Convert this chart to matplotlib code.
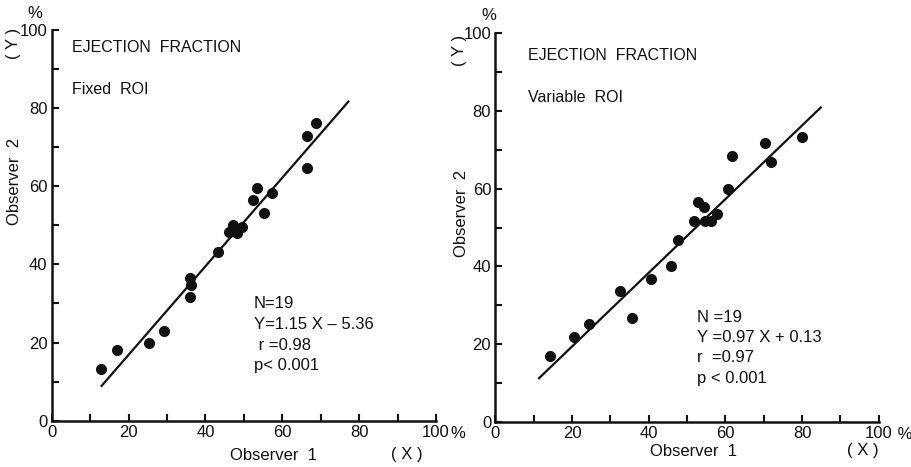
import matplotlib
matplotlib.use("Agg")
import matplotlib.pyplot as plt
from matplotlib.transforms import ScaledTranslation

plt.rcParams['font.family'] = ['Liberation Sans', 'DejaVu Sans']

# ---- data ----
fixed_x = [12.8, 17.0, 25.2, 29.2, 36.1, 36.3, 36.1, 43.4, 46.1, 47.1,
           48.3, 49.4, 52.5, 53.5, 55.3, 57.4, 66.5, 66.5, 68.7]
fixed_y = [13.3, 18.1, 19.8, 23.0, 36.6, 34.7, 31.7, 43.3, 48.2, 50.0,
           48.0, 49.7, 56.5, 59.6, 53.2, 58.3, 64.6, 72.9, 76.2]
fixed_line_x = [12.8, 77.4]
fixed_line_y = [8.7, 81.9]

var_x = [14.3, 20.4, 24.5, 32.4, 35.6, 40.7, 45.7, 47.7, 51.7, 52.9,
         54.5, 54.6, 56.3, 57.7, 60.8, 61.8, 70.3, 72.0, 80.0]
var_y = [17.0, 21.9, 25.2, 33.7, 26.6, 36.8, 40.2, 46.8, 51.8, 56.6,
         55.2, 51.8, 51.8, 53.4, 59.8, 68.3, 71.7, 66.8, 73.3]
var_line_x = [11.2, 85.1]
var_line_y = [11.0, 81.1]

major_ticks = [0, 20, 40, 60, 80, 100]
minor_ticks = [10, 30, 50, 70, 90]
tick_labels = ['0', '20', '40', '60', '80', '100']

fixed_stats = ["N=19", "Y=1.15 X \u2013 5.36", " r =0.98", "p< 0.001"]
var_stats = ["N =19", "Y =0.97 X + 0.13", "r  =0.97", "p < 0.001"]

W, H = 912, 467
fig = plt.figure(figsize=(W / 100, H / 100), dpi=100)
fig.patch.set_facecolor('white')
ink = '#111111'
FS = 12


def fx(px):
    return px / W


def fy(py):
    return 1 - py / H


def make_panel(rect, xs, ys, lx, ly, sub, stats, stat_pos, title_pos, pct_text):
    ax = fig.add_axes(rect)
    ax.set_xlim(0, 100)
    ax.set_ylim(0, 100)
    for s in ['top', 'right']:
        ax.spines[s].set_visible(False)
    for s in ['left', 'bottom']:
        ax.spines[s].set_linewidth(1.8)
        ax.spines[s].set_color(ink)
    ax.set_xticks(major_ticks)
    ax.set_xticklabels(tick_labels)
    ax.set_yticks(major_ticks)
    ax.set_yticklabels(tick_labels)
    ax.set_xticks(minor_ticks, minor=True)
    ax.set_yticks(minor_ticks, minor=True)
    ax.tick_params(which='both', direction='in', length=5, width=1.5, color=ink,
                   labelsize=FS, labelcolor=ink, pad=3)
    ax.plot(lx, ly, color=ink, lw=1.6, solid_capstyle='butt')
    ax.plot(xs, ys, 'o', color=ink, markersize=8, markeredgewidth=0)
    ax.patch.set_alpha(0)
    tx, ty = title_pos
    fig.text(tx, ty, "EJECTION  FRACTION", fontsize=11.5, color=ink,
             va='center', ha='left')
    fig.text(tx, ty - (42 / H), sub, fontsize=11.5, color=ink,
             va='center', ha='left')
    sx, sy = stat_pos
    for i, s in enumerate(stats):
        fig.text(sx, sy - i * 20.5 / H, s, fontsize=FS, color=ink,
                 va='center', ha='left')
    # "%" after the 100 tick label on the x axis
    ax.text(100, 0, pct_text, fontsize=FS, color=ink, ha='left', va='top',
            transform=ax.transData + ScaledTranslation(14 / 100, -5 / 100,
                                                        fig.dpi_scale_trans))
    return ax


# left panel
make_panel([fx(51.7), fy(420.7), fx(436) - fx(51.7), fy(30) - fy(420.7)],
           fixed_x, fixed_y, fixed_line_x, fixed_line_y,
           "Fixed  ROI", fixed_stats,
           (fx(254), fy(304)), (fx(72), fy(47)), "%")

# right panel
make_panel([fx(495.3), fy(421.7), fx(878.7) - fx(495.3), fy(33.3) - fy(421.7)],
           var_x, var_y, var_line_x, var_line_y,
           "Variable  ROI", var_stats,
           (fx(697), fy(317)), (fx(528), fy(55)), " %")

# axis labels as figure text
fig.text(fx(35), fy(14), "%", fontsize=FS, color=ink, ha='center', va='center')
fig.text(fx(14), fy(43), "( Y )", fontsize=FS, color=ink, ha='center', va='center', rotation=90)
fig.text(fx(15), fy(181), "Observer  2", fontsize=FS, color=ink, ha='center', va='center', rotation=90)
fig.text(fx(273), fy(455), "Observer  1", fontsize=FS, color=ink, ha='center', va='center')
fig.text(fx(407), fy(455), "( X )", fontsize=FS, color=ink, ha='center', va='center')

fig.text(fx(456 + 33), fy(16), "%", fontsize=FS, color=ink, ha='center', va='center')
fig.text(fx(456 + 4), fy(50), "( Y )", fontsize=FS, color=ink, ha='center', va='center', rotation=90)
fig.text(fx(456 + 5), fy(213), "Observer  2", fontsize=FS, color=ink, ha='center', va='center', rotation=90)
fig.text(fx(456 + 238), fy(451), "Observer  1", fontsize=FS, color=ink, ha='center', va='center')
fig.text(fx(456 + 407), fy(451), "( X )", fontsize=FS, color=ink, ha='center', va='center')

fig.savefig("out.png", dpi=100, facecolor='white')
